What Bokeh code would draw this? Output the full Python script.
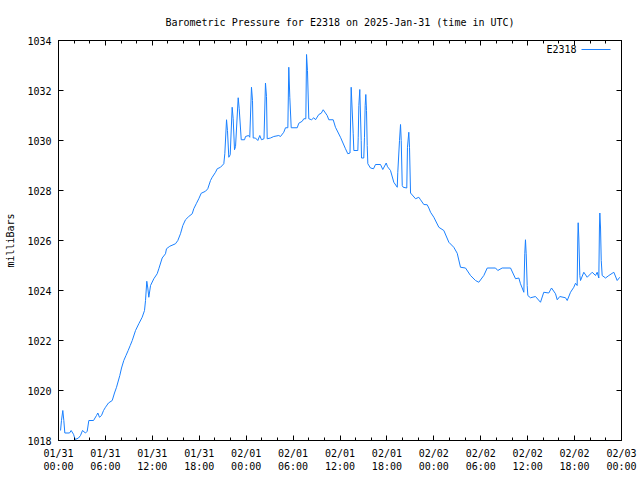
from datetime import datetime, timedelta
from bokeh.plotting import figure
from bokeh.models import (FixedTicker, DatetimeTickFormatter, DatetimeAxis, LinearAxis,
                          Range1d, Label, Arrow, ColumnDataSource)
from bokeh.embed import file_html
from bokeh.resources import INLINE

station = "E2318"
title_text = "Barometric Pressure for E2318 on 2025-Jan-31 (time in UTC)"
y_label = "milliBars"
start = datetime(2025, 1, 31, 0, 0)

# hours since 2025-01-31 00:00 UTC
hours = [0.26, 0.38, 0.55, 0.68, 0.81, 1.41, 1.62, 1.92, 2.14, 2.56, 2.81, 3.07, 3.45, 3.67, 3.88,
         4.48, 4.86, 5.03, 5.24, 5.50, 5.76, 6.01, 6.39, 6.87, 7.16, 7.42, 7.84, 8.06, 8.35, 8.63,
         8.91, 9.17, 9.43, 9.85, 10.27, 10.70, 11.00, 11.13, 11.29, 11.42, 11.55, 11.77, 12.19,
         12.62, 12.83, 13.26, 13.68, 13.81, 14.23, 14.96, 15.26, 15.60, 15.90, 16.24, 16.66,
         17.10, 17.30, 17.65, 17.94, 18.25, 18.80, 19.09, 19.44, 19.66, 20.08, 20.30, 20.72,
         21.14, 21.27, 21.49, 21.61, 21.78, 21.96, 22.21, 22.34, 22.51, 22.64, 22.98, 23.11,
         23.37, 23.79, 23.92, 24.30, 24.46, 24.68, 24.81, 24.90, 25.19, 25.49, 25.74, 25.96,
         26.28, 26.47, 26.60, 26.69, 27.11, 27.53, 28.17, 28.39, 28.81, 29.03, 29.33, 29.45,
         29.58, 29.76, 30.53, 30.73, 31.17, 31.37, 31.63, 31.72, 31.84, 32.01, 32.36, 32.65,
         32.87, 33.29, 33.60, 33.85, 34.36, 34.57, 35.13, 35.42, 36.06, 36.70, 37.00, 37.28,
         37.43, 37.69, 37.77, 38.28, 38.33, 38.41, 38.53, 38.71, 38.75, 39.04, 39.13, 39.22,
         39.30, 39.39, 39.48, 39.56, 39.90, 40.29, 40.54, 41.18, 41.47, 41.91, 42.08, 42.46,
         42.88, 43.32, 43.39, 43.61, 43.74, 43.83, 43.96, 44.08, 44.54, 44.63, 44.80, 44.89,
         45.02, 45.66, 46.08, 46.30, 46.72, 47.15, 47.36, 47.58, 48.00, 48.64, 49.28, 49.92,
         50.55, 50.99, 51.41, 52.05, 52.69, 53.33, 53.75, 54.39, 54.83, 55.89, 56.18, 56.74,
         57.81, 58.45, 58.87, 59.08, 59.30, 59.51, 59.63, 59.72, 59.81, 59.94, 60.02, 60.36,
         61.00, 61.64, 62.06, 62.70, 63.05, 63.56, 63.78, 64.11, 64.84, 65.06, 65.48, 65.90,
         66.12, 66.33, 66.41, 66.46, 66.54, 66.67, 66.76, 67.18, 67.61, 68.25, 68.68, 68.89,
         69.10, 69.18, 69.23, 69.32, 69.41, 69.53, 69.96, 70.38, 71.02, 71.45, 71.78]

pressure = [1018.40, 1018.80, 1019.20, 1018.80, 1018.30, 1018.30, 1018.40, 1018.25, 1018.04,
            1018.10, 1018.20, 1018.40, 1018.30, 1018.37, 1018.80, 1018.80, 1019.00, 1019.10,
            1018.93, 1019.00, 1019.20, 1019.33, 1019.50, 1019.60, 1019.90, 1020.13, 1020.60,
            1020.90, 1021.20, 1021.40, 1021.60, 1021.80, 1022.00, 1022.40, 1022.67, 1022.93,
            1023.20, 1023.60, 1024.37, 1024.10, 1023.73, 1024.20, 1024.47, 1024.67, 1024.87,
            1025.30, 1025.47, 1025.67, 1025.77, 1025.87, 1026.00, 1026.27, 1026.60, 1026.83,
            1026.96, 1027.07, 1027.27, 1027.49, 1027.67, 1027.89, 1027.97, 1028.07, 1028.40,
            1028.53, 1028.73, 1028.87, 1028.93, 1029.07, 1029.47, 1030.83, 1030.40, 1029.33,
            1029.43, 1031.33, 1030.87, 1029.63, 1029.76, 1031.71, 1031.27, 1030.03, 1030.03,
            1030.16, 1030.20, 1030.13, 1032.13, 1031.60, 1030.10, 1030.10, 1030.00, 1030.20,
            1030.03, 1030.07, 1032.30, 1031.76, 1030.07, 1030.10, 1030.16, 1030.20, 1030.16,
            1030.33, 1030.51, 1030.51, 1032.93, 1031.73, 1030.51, 1030.51, 1030.69, 1030.77,
            1030.87, 1030.87, 1033.44, 1032.80, 1030.87, 1030.83, 1030.91, 1030.83, 1031.04,
            1031.09, 1031.23, 1031.00, 1030.83, 1030.83, 1030.53, 1030.13, 1029.67, 1029.47,
            1029.50, 1032.13, 1030.27, 1029.60, 1029.60, 1030.13, 1031.40, 1032.04, 1030.00,
            1029.30, 1029.30, 1030.13, 1031.40, 1031.84, 1031.20, 1029.80, 1029.07, 1028.90,
            1028.87, 1029.04, 1029.04, 1028.84, 1029.10, 1028.95, 1028.80, 1028.33, 1028.13,
            1028.73, 1030.00, 1030.64, 1030.00, 1028.20, 1028.13, 1028.10, 1029.73, 1030.33,
            1029.73, 1027.90, 1027.67, 1027.73, 1027.63, 1027.44, 1027.43, 1027.30, 1027.13,
            1026.93, 1026.53, 1026.40, 1025.93, 1025.73, 1025.49, 1024.93, 1024.90, 1024.60,
            1024.40, 1024.33, 1024.60, 1024.90, 1024.90, 1024.80, 1024.90, 1024.90, 1024.47,
            1024.50, 1024.27, 1024.10, 1023.93, 1025.47, 1026.03, 1025.47, 1024.20, 1023.80,
            1023.71, 1023.76, 1023.53, 1023.93, 1023.90, 1024.10, 1023.87, 1023.63, 1023.76,
            1023.71, 1023.60, 1023.93, 1024.13, 1024.29, 1024.20, 1026.10, 1026.71, 1026.10,
            1024.60, 1024.40, 1024.73, 1024.53, 1024.73, 1024.60, 1024.73, 1024.50, 1026.50,
            1027.10, 1026.50, 1025.20, 1024.60, 1024.50, 1024.60, 1024.73, 1024.40, 1024.53]

y_ticks = [1018, 1020, 1022, 1024, 1026, 1028, 1030, 1032, 1034]
x_major_hours = [0, 6, 12, 18, 24, 30, 36, 42, 48, 54, 60, 66, 72]
x_minor_hours = list(range(0, 73, 2))

EPOCH = datetime(1970, 1, 1)


def to_ms(h):
    return (start + timedelta(hours=h) - EPOCH).total_seconds() * 1000.0


times = [start + timedelta(hours=h) for h in hours]
src = ColumnDataSource(data=dict(t=times, p=pressure))

FONT = "DejaVu Sans Mono"
FS = "10px"
LINE_COLOR = "#1a80ff"

p = figure(width=640, height=480, x_axis_type="datetime", output_backend="svg",
           toolbar_location=None, x_range=Range1d(to_ms(0), to_ms(72)),
           y_range=Range1d(1018, 1034),
           min_border_left=58, min_border_right=19, min_border_top=40, min_border_bottom=40)

p.line("t", "p", source=src, line_color=LINE_COLOR, line_width=1)

p.title.text = title_text
p.title.align = "center"
p.title.text_font = FONT
p.title.text_font_size = FS
p.title.text_font_style = "normal"
p.title.text_color = "black"
p.title.standoff = 25

p.xgrid.visible = False
p.ygrid.visible = False
p.outline_line_color = "black"
p.outline_line_width = 1
p.background_fill_color = "white"
p.border_fill_color = "white"

xt = FixedTicker(ticks=[to_ms(h) for h in x_major_hours],
                 minor_ticks=[to_ms(h) for h in x_minor_hours])
yt = FixedTicker(ticks=y_ticks, minor_ticks=[])
fmt_str = "%m/%d\n%H:%M"
xf = DatetimeTickFormatter(hourmin=fmt_str, hours=fmt_str, days=fmt_str, minutes=fmt_str,
                           months=fmt_str, strip_leading_zeros=False)


def style(ax, show_labels=True):
    ax.major_tick_in = 5
    ax.major_tick_out = 0
    ax.minor_tick_in = 3
    ax.minor_tick_out = 0
    ax.axis_line_color = "black"
    ax.major_tick_line_color = "black"
    ax.minor_tick_line_color = "black"
    ax.major_label_text_font = FONT
    ax.major_label_text_font_size = FS
    ax.major_label_text_color = "black" if show_labels else None


xa = p.xaxis[0]
xa.ticker = xt
xa.formatter = xf
style(xa)
xa.major_label_standoff = 7

ya = p.yaxis[0]
ya.ticker = yt
style(ya)
ya.major_label_standoff = 7
ya.axis_label = y_label
ya.axis_label_text_font = FONT
ya.axis_label_text_font_size = FS
ya.axis_label_text_font_style = "normal"
ya.axis_label_text_color = "black"
ya.axis_label_standoff = 8

xa_top = DatetimeAxis(ticker=xt, formatter=xf)
style(xa_top, False)
xa_top.major_label_standoff = 0
p.add_layout(xa_top, "above")

ya_right = LinearAxis(ticker=yt)
style(ya_right, False)
ya_right.major_label_standoff = 0
p.add_layout(ya_right, "right")

p.add_layout(Label(x=518, y=391, x_units="screen", y_units="screen", text=station,
                   text_align="right", text_baseline="middle", text_font=FONT,
                   text_font_size=FS, text_color="black"))
p.add_layout(Arrow(x_start=523, y_start=391, x_end=552, y_end=391, start_units="screen",
                   end_units="screen", end=None, line_color=LINE_COLOR, line_width=1))

open("out.html", "w").write(file_html(p, INLINE))
